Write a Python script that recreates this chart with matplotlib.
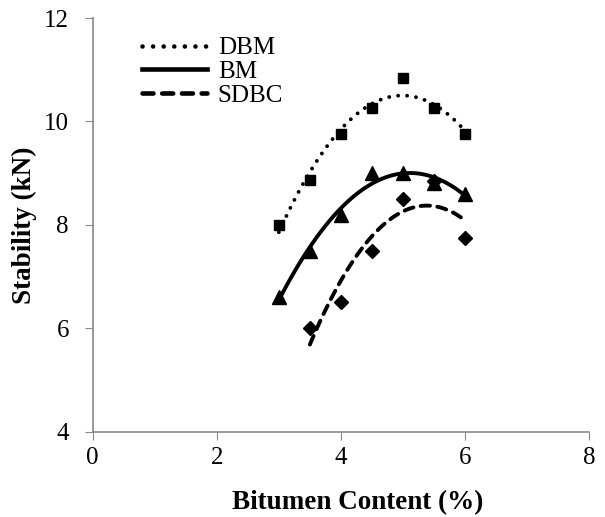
import numpy as np
import matplotlib
matplotlib.use("Agg")
import matplotlib.pyplot as plt

plt.rcParams['font.family'] = ['Liberation Serif', 'DejaVu Serif']

# data
x_dbm = [3.0, 3.5, 4.0, 4.5, 5.0, 5.5, 6.0]
y_dbm = [8.0, 8.86, 9.75, 10.26, 10.84, 10.26, 9.75]
x_bm = [3.0, 3.5, 4.0, 4.5, 5.0, 5.5, 6.0]
y_bm = [6.6, 7.5, 8.2, 9.0, 9.0, 8.82, 8.6]
x_sdbc = [3.5, 4.0, 4.5, 5.0, 5.5, 6.0]
y_sdbc = [6.0, 6.5, 7.5, 8.5, 8.85, 7.75]

xticks = [0, 2, 4, 6, 8]
yticks = [4, 6, 8, 10, 12]


def trend(xs, ys):
    # 2nd order polynomial trendline like the spreadsheet one
    c = np.polyfit(xs, ys, 2)
    xx = np.linspace(min(xs), max(xs), 100)
    return xx, np.polyval(c, xx)


fig = plt.figure(figsize=(6.05, 5.17), dpi=100)
ax = fig.add_axes([0.153, 0.165, 0.821, 0.800])

ax.plot(x_dbm, y_dbm, 's', color='black', ms=7, label='_nolegend_')
ax.plot(x_sdbc, y_sdbc, 'D', color='black', ms=7, label='_nolegend_')
ax.plot(x_bm, y_bm, '^', color='black', ms=9.5, label='_nolegend_')

xx, yy = trend(x_dbm, y_dbm)
ax.plot(xx, yy, color='black', lw=2.8, linestyle=(0, (0.01, 2.3)),
        dash_capstyle='round', label='DBM')
xx, yy = trend(x_bm, y_bm)
ax.plot(xx, yy, color='black', lw=2.8, label='BM')
xx, yy = trend(x_sdbc, y_sdbc)
ax.plot(xx, yy, color='black', lw=2.8, linestyle=(0, (2.4, 1.9)),
        dash_capstyle='round', label='SDBC')

ax.set_xlim(0, 8)
ax.set_ylim(4, 12)
ax.set_xticks(xticks)
ax.set_yticks(yticks)
ax.tick_params(labelsize=18, direction='out', length=6, color='#888888')
ax.tick_params(axis='x', pad=5)
ax.tick_params(axis='y', pad=11)
for s in ['top', 'right']:
    ax.spines[s].set_visible(False)
for s in ['left', 'bottom']:
    ax.spines[s].set_color('#888888')
    ax.spines[s].set_linewidth(1.2)

ax.set_xlabel('Bitumen Content (%)', fontsize=19.5, fontweight='bold')
ax.set_ylabel('Stability (kN)', fontsize=19.5, fontweight='bold')
ax.xaxis.set_label_coords(0.533, -0.141)
ax.yaxis.set_label_coords(-0.112, 0.5)

leg = ax.legend(loc='upper left', bbox_to_anchor=(0.075, 0.985), frameon=False,
                fontsize=18, handlelength=2.6, handletextpad=0.42,
                labelspacing=0.05, borderaxespad=0.1)
for line in leg.get_lines():
    line.set_linewidth(3.3)

fig.savefig('out.png', dpi=100)
